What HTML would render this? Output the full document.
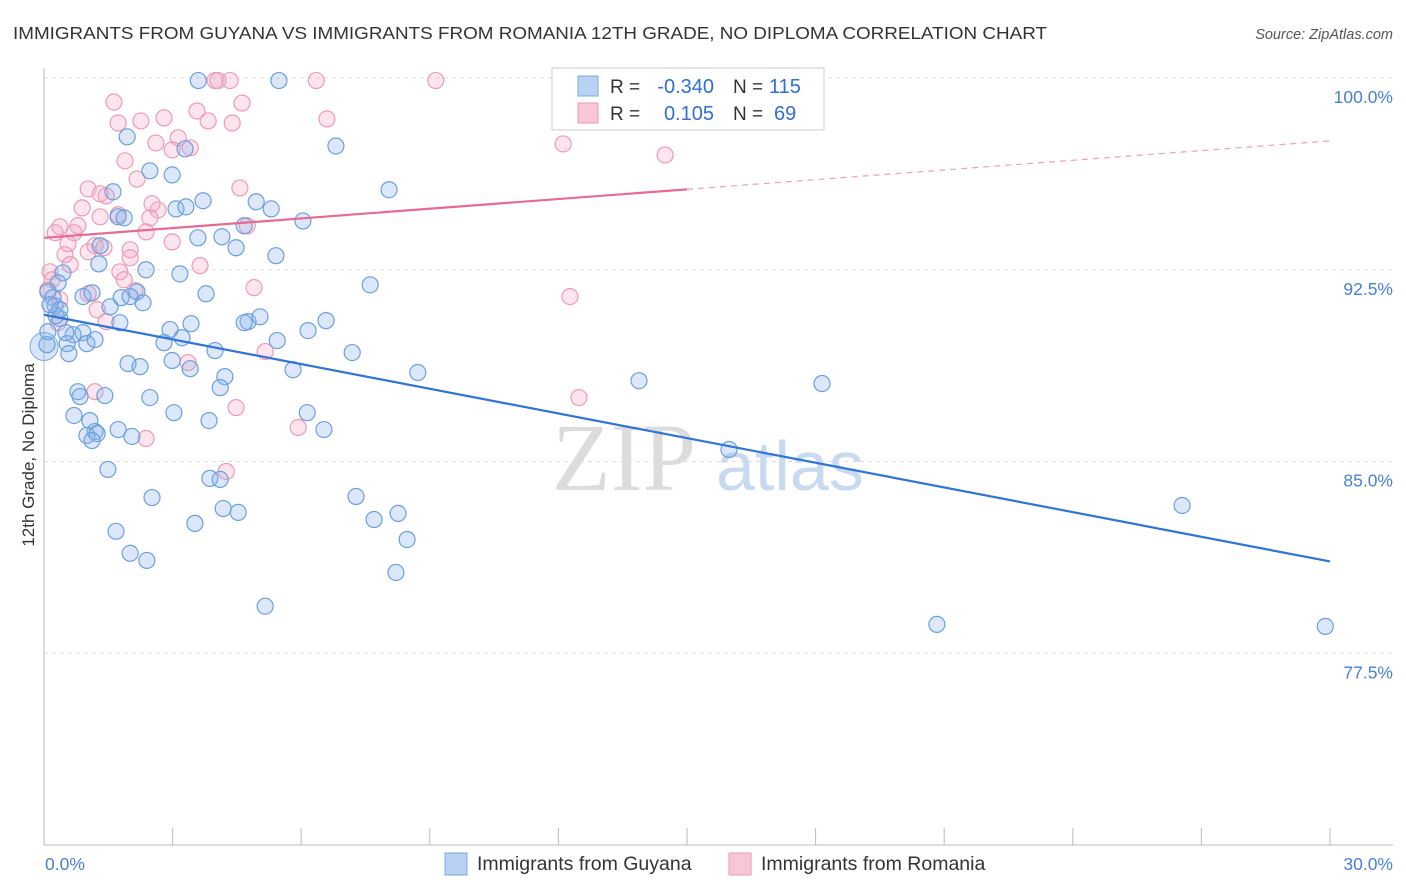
<!DOCTYPE html>
<html><head><meta charset="utf-8"><style>
body{margin:0;background:#fff;font-family:"Liberation Sans",sans-serif;}
svg{display:block}
</style></head><body>
<svg id="c" width="1406" height="892" xmlns="http://www.w3.org/2000/svg">
<text x="13" y="39" font-size="17.5" fill="#333" textLength="1034" lengthAdjust="spacingAndGlyphs">IMMIGRANTS FROM GUYANA VS IMMIGRANTS FROM ROMANIA 12TH GRADE, NO DIPLOMA CORRELATION CHART</text>
<text x="1393" y="39" font-size="14.5" fill="#555" font-style="italic" text-anchor="end">Source: ZipAtlas.com</text>
<text transform="translate(34,455) rotate(-90)" font-size="17" fill="#333" text-anchor="middle">12th Grade, No Diploma</text>
<g><text x="552" y="490" font-size="96" font-family="Liberation Serif,serif" fill="#dcdcdc">ZIP</text><text x="716" y="490" font-size="70" fill="#c8daf2">atlas</text></g>
<g id="grid"></g><g id="axes"></g><g id="pts"></g><g id="lines"></g>
<g>
<rect x="552" y="68" width="272" height="62" fill="#fff" stroke="#ccc"/>
<rect x="578" y="76" width="20" height="20" fill="#b9d2f3" stroke="#7aa8e6"/>
<rect x="578" y="103" width="20" height="20" fill="#f8c6d4" stroke="#ee9ab4"/>
<text x="610" y="93" font-size="19" fill="#333">R =</text>
<text x="714" y="93" font-size="20" fill="#2f6fd6" text-anchor="end">-0.340</text>
<text x="733" y="93" font-size="19" fill="#333">N =</text>
<text x="769" y="93" font-size="20" fill="#2f6fd6">115</text>
<text x="610" y="120" font-size="19" fill="#333">R =</text>
<text x="714" y="120" font-size="20" fill="#2f6fd6" text-anchor="end">0.105</text>
<text x="733" y="120" font-size="19" fill="#333">N =</text>
<text x="774" y="120" font-size="20" fill="#2f6fd6">69</text>
</g>
<g>
<rect x="445" y="853" width="22" height="22" fill="#b9d2f3" stroke="#7aa8e6"/>
<text x="477" y="870" font-size="19.5" fill="#333">Immigrants from Guyana</text>
<rect x="729" y="853" width="22" height="22" fill="#f8c6d4" stroke="#ee9ab4"/>
<text x="761" y="870" font-size="19.5" fill="#333">Immigrants from Romania</text>
</g>
</svg>
<script>
const yTicks=[100,92.5,85,77.5];
const yTickLabels=["100.0%","92.5%","85.0%","77.5%"];
const xTickLabels=["0.0%","30.0%"];
const blueX=[3.6,5.48,1.94,6.81,3.29,2.47,2.99,8.05,1.61,3.71,3.08,3.31,4.95,5.30,1.73,1.87,6.04,4.67,3.59,4.15,1.31,4.48,5.41,1.28,0.44,2.38,3.17,0.33,7.61,0.09,0.21,0.91,1.12,1.80,2.17,2.31,3.78,0.26,1.54,0.37,1.77,3.43,4.76,4.67,5.04,6.58,6.16,2.94,0.91,0.68,1.00,0.54,0.58,2.80,3.22,5.44,7.19,3.99,1.96,2.24,2.99,3.41,5.81,8.72,13.88,18.15,4.22,0.79,0.84,1.42,2.47,4.11,6.14,3.03,3.85,0.70,1.07,6.53,1.73,1.19,1.00,1.24,1.12,2.05,15.98,1.49,3.87,4.11,2.52,7.28,4.18,4.53,3.52,7.70,8.26,1.68,8.47,2.01,2.40,8.21,5.16,20.83,29.89,26.55,0.07,0.09,0.28,0.37,0.14,1.19,0.51,2.01];
const blueY=[99.9,99.9,97.70,97.34,97.23,96.37,96.21,95.63,95.55,95.20,94.88,94.96,95.16,94.88,94.57,94.53,94.41,94.22,93.75,93.79,93.44,93.36,93.05,92.73,92.38,92.50,92.34,91.99,91.91,91.64,91.41,91.45,91.60,91.41,91.64,91.21,91.56,91.09,91.05,90.59,90.43,90.39,90.47,90.43,90.66,90.51,90.12,90.16,90.04,89.96,89.61,89.61,89.22,89.65,89.84,89.73,89.26,89.34,88.83,88.71,88.95,88.63,88.59,88.48,88.16,88.05,88.32,87.73,87.54,87.58,87.50,87.89,86.91,86.91,86.60,86.80,86.60,86.25,86.25,86.17,86.02,86.09,85.82,85.98,85.47,84.69,84.34,84.30,83.59,83.63,83.16,83.01,82.58,82.73,82.97,82.27,81.95,81.41,81.13,80.66,79.34,78.63,78.55,83.28,89.57,90.08,90.70,90.94,91.13,89.77,90.04,91.45];
const pinkX=[3.99,4.34,6.35,9.14,4.06,1.63,4.62,3.57,1.73,2.26,2.80,3.83,4.39,6.60,3.13,2.99,2.61,3.41,12.11,14.49,1.89,2.17,4.57,1.03,1.45,1.31,0.89,2.66,2.52,4.74,1.73,1.31,2.47,0.37,0.79,2.38,0.26,0.70,0.56,1.19,2.01,2.99,1.03,1.40,0.49,3.64,1.77,2.01,0.14,1.87,2.12,4.90,1.03,12.27,1.24,1.45,0.33,5.16,3.36,1.19,12.48,4.48,5.93,2.38,4.25,0.19,0.09,0.37,0.61];
const pinkY=[99.9,99.9,99.9,99.9,99.9,99.06,99.02,98.71,98.24,98.32,98.44,98.32,98.24,98.40,97.66,97.19,97.46,97.27,97.42,96.99,96.76,96.05,95.70,95.66,95.39,95.47,94.92,94.84,95.08,94.22,94.65,94.57,94.53,94.18,94.22,93.98,93.95,93.95,93.52,93.44,93.28,93.59,93.20,93.36,93.09,92.66,92.42,92.97,92.42,92.11,91.68,91.80,91.56,91.45,90.94,90.47,90.43,89.30,88.87,87.73,87.50,87.11,86.33,85.90,84.61,92.11,91.72,91.33,92.70];
const blueTrend=[90.74,81.09];
const pinkTrend=[93.75,97.54];
const X0=44,X1=1330,Y0=845,Y1=78;
const sx=v=>X0+(v/30)*(X1-X0);
const sy=v=>Y0-((v-70)/30)*(Y0-Y1);
const NS="http://www.w3.org/2000/svg";
function mk(t,a,p){const e=document.createElementNS(NS,t);for(const k in a)e.setAttribute(k,a[k]);p.appendChild(e);return e;}
const grid=document.getElementById('grid'),axes=document.getElementById('axes'),pts=document.getElementById('pts'),lines=document.getElementById('lines');
yTicks.forEach((t,i)=>{
 const g=mk('line',{x1:X0,x2:1393,y1:sy(t),y2:sy(t),stroke:'#ddd','stroke-dasharray':'4,4'},grid);
 
 
 const l=mk('text',{x:1393,y:sy(t)+25,'font-size':17.5,fill:'#4a7fd4','text-anchor':'end'},axes);
 l.textContent=yTickLabels[i];
 
 
});
const ax=mk('line',{x1:X0,x2:X0,y1:68,y2:Y0,stroke:'#bbb'},axes);


const bx=mk('line',{x1:X0,x2:1393,y1:Y0,y2:Y0,stroke:'#bbb'},axes);


for(let i=0;i<=10;i++){const t=mk('line',{x1:sx(i*3),x2:sx(i*3),y1:828,y2:Y0,stroke:'#bbb'},axes);
 
 }
const xl0=mk('text',{x:45,y:870,'font-size':17.5,fill:'#4a7fd4'},axes);xl0.textContent=xTickLabels[0];


const xl1=mk('text',{x:1393,y:870,'font-size':17.5,fill:'#4a7fd4','text-anchor':'end'},axes);xl1.textContent=xTickLabels[1];


const big=mk('circle',{cx:sx(0),cy:sy(89.5),r:14,fill:'rgba(140,180,235,0.35)',stroke:'#7aa8e6'},pts);


pinkX.forEach((x,i)=>{const c=mk('circle',{cx:sx(x),cy:sy(pinkY[i]),r:8,fill:'rgba(244,170,195,0.3)',stroke:'#ee9ab4','stroke-width':1.2},pts);
 
 });
blueX.forEach((x,i)=>{const c=mk('circle',{cx:sx(x),cy:sy(blueY[i]),r:8,fill:'rgba(140,180,235,0.3)',stroke:'#6a9fe0','stroke-width':1.2},pts);
 
 });
const bl=mk('line',{x1:sx(0),y1:sy(blueTrend[0]),x2:sx(30),y2:sy(blueTrend[1]),stroke:'#2f74d8','stroke-width':2.2},lines);


const pm=15,pmid=pinkTrend[0]+(pinkTrend[1]-pinkTrend[0])*pm/30;
const pl=mk('line',{x1:sx(0),y1:sy(pinkTrend[0]),x2:sx(pm),y2:sy(pmid),stroke:'#e86a93','stroke-width':2.2},lines);


const pd=mk('line',{x1:sx(pm),y1:sy(pmid),x2:sx(30),y2:sy(pinkTrend[1]),stroke:'#eda0b8','stroke-width':1.2,'stroke-dasharray':'6,5'},lines);


</script>
</body></html>
